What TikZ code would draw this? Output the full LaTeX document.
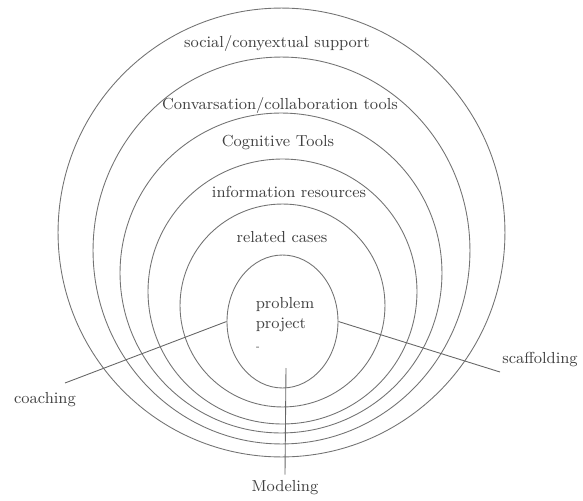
\documentclass[tikz,border=0pt]{standalone}
\usetikzlibrary{positioning, calc, shapes.geometric}

\begin{document}
\begin{tikzpicture}[
    x=0.02cm, y=-0.02cm,
    every node/.style={font=\fontsize{9.1}{11.3}\selectfont, text=black!75},
    ring/.style={draw=black!55, ellipse, inner sep=0pt, line width=0.5pt},
    link/.style={draw=black!60, line width=0.5pt}
    ]
    \useasboundingbox (0,0) rectangle (583,501);
    % nested rings
    \node[ring, minimum width=8.94cm, minimum height=8.98cm] (social) at (281.5,232.5) {};
    \node[ring, minimum width=7.54cm, minimum height=7.74cm] (conv) at (281.5,250.5) {};
    \node[ring, minimum width=6.44cm, minimum height=6.40cm] (cog) at (281,273) {};
    \node[ring, minimum width=5.38cm, minimum height=5.30cm] (info) at (282.5,291.5) {};
    \node[ring, minimum width=4.10cm, minimum height=4.06cm] (related) at (282.5,305.5) {};
    \node[ring, minimum width=2.22cm, minimum height=2.66cm] (problem) at (282.5,321.5) {};
    % ring texts
    \node (tsocial) at (277,43) {social/conyextual support};
    \node (tconv) at (280,105) {Convarsation/collaboration tools};
    \node (tcog) at (278,143) {Cognitive Tools};
    \node (tinfo) at (289,192) {information resources};
    \node (trelated) at (282,237) {related cases};
    \node[align=left] (tproblem) at (285,315) {problem\\project};
    \node[font=\tiny] (tdash) at (258,348) {-};
    % outer labels
    \node (coaching) at (45,400) {coaching};
    \node (scaffolding) at (540,360) {scaffolding};
    \node (modeling) at (285,488) {Modeling};
    \coordinate (cfoot) at (65,383);
    \coordinate (sfoot) at (500,372);
    \coordinate (mtop) at (286,368);
    \draw[link] (cfoot) -- (problem.west);
    \draw[link] (problem.east) -- (sfoot);
    \draw[link] (mtop) -- (modeling.north);
\end{tikzpicture}
\end{document}
